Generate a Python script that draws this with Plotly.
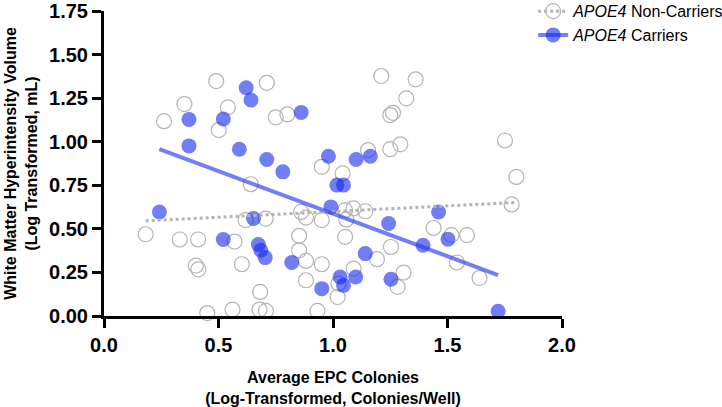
import plotly.graph_objects as go
import numpy as np

# Non-carriers (open circles)
nc_x = [0.182, 0.331, 0.411, 0.570, 0.618, 0.706, 0.641, 0.401, 0.412, 0.602,
        0.682, 0.451, 0.561, 0.679, 0.707, 0.490, 0.711, 0.351, 0.541, 0.262,
        0.501, 0.750, 0.801, 1.211, 1.361, 1.320, 1.250, 1.262, 1.153, 1.250,
        1.294, 0.951, 1.042, 1.751, 1.801, 1.780, 0.861, 0.882, 0.951, 1.053,
        1.090, 1.141, 1.058, 0.852, 0.852, 0.882, 0.951, 1.053, 0.882, 1.024,
        1.020, 1.090, 0.932, 1.192, 1.253, 1.308, 1.282, 1.439, 1.517, 1.585,
        1.541, 1.640]
nc_y = [0.469, 0.439, 0.439, 0.427, 0.550, 0.559, 0.756, 0.289, 0.268, 0.297,
        0.138, 0.017, 0.037, 0.037, 0.029, 1.348, 1.338, 1.216, 1.197, 1.118,
        1.067, 1.140, 1.157, 1.377, 1.358, 1.249, 1.153, 1.166, 0.952, 0.957,
        0.985, 0.856, 0.818, 1.007, 0.798, 0.640, 0.597, 0.565, 0.550, 0.607,
        0.617, 0.601, 0.554, 0.460, 0.377, 0.316, 0.297, 0.454, 0.205, 0.186,
        0.109, 0.272, 0.029, 0.326, 0.396, 0.249, 0.167, 0.505, 0.464, 0.464,
        0.307, 0.218]

# Carriers (filled circles)
c_x = [0.242, 0.371, 0.371, 0.521, 0.591, 0.621, 0.642, 0.711, 0.781, 0.521,
       0.653, 0.674, 0.685, 0.704, 0.861, 0.980, 1.101, 1.163, 1.017, 1.046,
       0.991, 0.820, 0.951, 1.031, 1.046, 1.099, 1.141, 1.243, 1.253, 1.393,
       1.461, 1.502, 1.721]
c_y = [0.597, 1.128, 0.976, 1.130, 0.957, 1.310, 1.239, 0.898, 0.827, 0.439,
       0.559, 0.410, 0.377, 0.335, 1.168, 0.917, 0.898, 0.917, 0.751, 0.751,
       0.626, 0.307, 0.157, 0.224, 0.176, 0.224, 0.358, 0.531, 0.211, 0.406,
       0.597, 0.441, 0.027]

# Regression fits (slope, intercept) as shown in the chart
nc_fit = (0.0652, 0.534)
c_fit = (-0.488, 1.075)

x_ticks = [0.0, 0.5, 1.0, 1.5, 2.0]
y_ticks = [0.00, 0.25, 0.50, 0.75, 1.00, 1.25, 1.50, 1.75]

GRAY = "rgb(180,180,180)"
BLUE = "rgba(20,40,240,0.6)"
BLUE_LINE = "rgba(40,60,240,0.65)"

fig = go.Figure()

nc_lx = np.array([min(nc_x), max(nc_x)])
c_lx = np.array([min(c_x), max(c_x)])

fig.add_trace(go.Scatter(x=nc_x, y=nc_y, mode="markers", showlegend=False,
                         cliponaxis=False,
                         marker=dict(size=15, color="rgba(0,0,0,0)",
                                     line=dict(color=GRAY, width=1.2))))
fig.add_trace(go.Scatter(x=c_x, y=c_y, mode="markers", showlegend=False,
                         cliponaxis=False,
                         marker=dict(size=15, color=BLUE, line=dict(width=0))))
fig.add_trace(go.Scatter(x=nc_lx, y=nc_fit[0] * nc_lx + nc_fit[1], mode="lines",
                         showlegend=False,
                         line=dict(color=GRAY, width=3, dash="dot")))
fig.add_trace(go.Scatter(x=c_lx, y=c_fit[0] * c_lx + c_fit[1], mode="lines",
                         showlegend=False,
                         line=dict(color=BLUE_LINE, width=4)))

# legend entries
fig.add_trace(go.Scatter(x=[None], y=[None], mode="lines+markers",
                         name="<i>APOE4</i> Non-Carriers",
                         line=dict(color=GRAY, width=3, dash="dot"),
                         marker=dict(size=15, color="rgba(0,0,0,0)",
                                     line=dict(color=GRAY, width=1.2))))
fig.add_trace(go.Scatter(x=[None], y=[None], mode="lines+markers",
                         name="<i>APOE4</i> Carriers",
                         line=dict(color=BLUE_LINE, width=4),
                         marker=dict(size=15, color=BLUE)))

axis_common = dict(showline=True, linecolor="black", linewidth=3,
                   ticks="outside", ticklen=9, tickwidth=3, tickcolor="black",
                   showgrid=False, zeroline=False,
                   tickfont=dict(family="Liberation Sans, Arial", size=20,
                                 color="black", weight="bold"))

fig.update_layout(
    width=722, height=407,
    margin=dict(l=104, r=160, t=11, b=91, autoexpand=False),
    plot_bgcolor="white", paper_bgcolor="white",
    font=dict(family="Liberation Sans, Arial", color="black"),
    xaxis=dict(range=[0, 2.0], tickvals=x_ticks,
               ticktext=[f"{v:.1f}" for v in x_ticks],
               title=dict(text="Average EPC Colonies<br>(Log-Transformed, Colonies/Well)",
                          font=dict(size=16, weight="bold", color="black"),
                          standoff=21),
               **axis_common),
    yaxis=dict(range=[0, 1.75], tickvals=y_ticks,
               ticktext=[f"{v:.2f}" for v in y_ticks],
               title=dict(text="White Matter Hyperintensity Volume<br>(Log Transformed, mL)",
                          font=dict(size=16, weight="bold", color="black"),
                          standoff=8),
               **axis_common),
    legend=dict(x=0.937, y=1.055, xanchor="left", yanchor="top",
                font=dict(size=16, color="black"), bgcolor="rgba(0,0,0,0)",
                itemwidth=30, tracegroupgap=0),
)

fig.write_html("out.html")
